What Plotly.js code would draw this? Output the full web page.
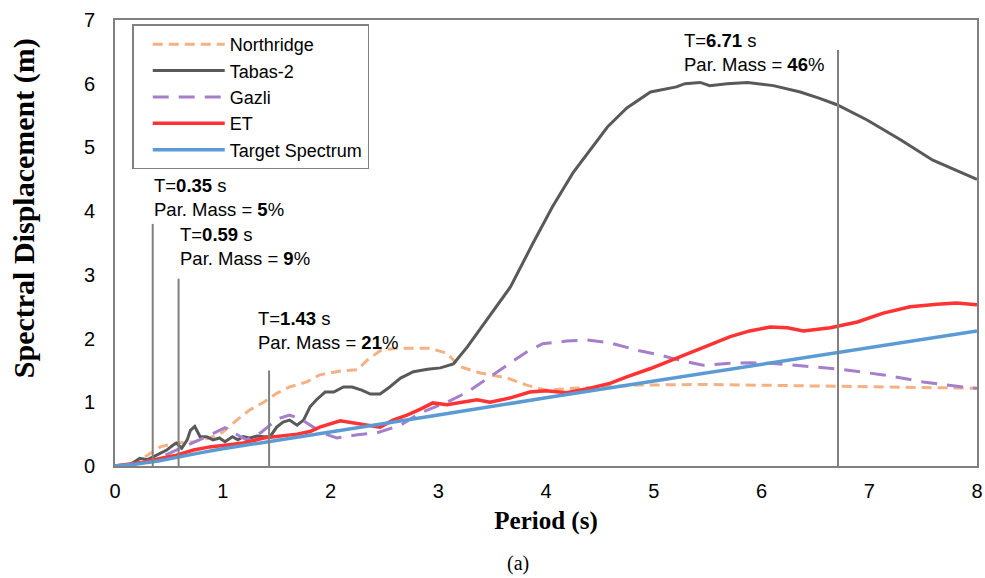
<!DOCTYPE html>
<html>
<head>
<meta charset="utf-8">
<script src="https://cdn.plot.ly/plotly-3.0.1.min.js"></script>
<style>html,body{margin:0;padding:0;background:#fff;}#chart{width:985px;height:578px;}</style>
</head>
<body>
<div id="chart"></div>
<script>
// ---- Data ----
const seriesNames = ["Northridge", "Tabas-2", "Gazli", "ET", "Target Spectrum"];

const northridgeT = [0,0.2,0.33,0.42,0.57,0.73,0.88,1.0,1.13,1.25,1.38,1.5,1.62,1.78,1.9,2.09,2.25,2.34,2.46,2.62,2.77,2.92,3.08,3.2,3.39,3.64,3.82,4.0,4.25,4.5,4.87,5.5,6.0,7.0,8.0];
const northridgeSd = [0,0.06,0.2,0.3,0.36,0.38,0.44,0.53,0.72,0.88,1.0,1.14,1.24,1.32,1.43,1.49,1.51,1.66,1.81,1.85,1.85,1.85,1.77,1.56,1.46,1.38,1.27,1.19,1.22,1.24,1.27,1.28,1.27,1.25,1.22];

const tabasT = [0,0.14,0.23,0.3,0.35,0.42,0.48,0.54,0.57,0.62,0.67,0.7,0.74,0.79,0.85,0.91,0.97,1.02,1.09,1.14,1.19,1.25,1.32,1.38,1.44,1.5,1.56,1.62,1.69,1.75,1.81,1.87,1.95,2.03,2.12,2.2,2.29,2.37,2.46,2.55,2.65,2.77,2.9,3.02,3.14,3.27,3.45,3.67,3.88,4.06,4.25,4.41,4.57,4.75,4.97,5.21,5.29,5.43,5.52,5.68,5.87,6.11,6.36,6.54,6.7,6.98,7.29,7.59,7.75,8.0];
const tabasSd = [0,0.02,0.12,0.1,0.14,0.2,0.25,0.33,0.36,0.28,0.41,0.56,0.62,0.46,0.46,0.41,0.44,0.38,0.46,0.41,0.46,0.44,0.47,0.46,0.46,0.61,0.69,0.72,0.64,0.72,0.93,1.04,1.16,1.16,1.24,1.24,1.19,1.13,1.13,1.24,1.38,1.48,1.52,1.54,1.6,1.87,2.29,2.81,3.5,4.07,4.6,4.96,5.32,5.62,5.87,5.95,6.0,6.02,5.97,6.0,6.02,5.97,5.87,5.77,5.67,5.43,5.12,4.8,4.68,4.5];

const gazliT = [0,0.2,0.4,0.6,0.7,0.8,0.9,1.02,1.12,1.22,1.35,1.51,1.62,1.72,1.84,1.95,2.06,2.25,2.43,2.65,2.83,3.08,3.27,3.48,3.64,3.82,3.97,4.19,4.38,4.6,4.84,5.06,5.24,5.46,5.68,5.89,6.11,6.36,6.73,7.13,7.5,7.87,8.0];
const gazliSd = [0,0.03,0.12,0.27,0.35,0.42,0.5,0.6,0.5,0.41,0.52,0.74,0.8,0.74,0.61,0.5,0.44,0.49,0.52,0.64,0.83,1.0,1.16,1.4,1.59,1.79,1.92,1.96,1.98,1.93,1.82,1.74,1.66,1.58,1.61,1.62,1.61,1.57,1.52,1.43,1.32,1.24,1.22];

const etT = [0,0.26,0.42,0.57,0.73,0.88,1.04,1.19,1.38,1.5,1.69,1.81,1.9,2.09,2.21,2.34,2.46,2.58,2.71,2.83,2.95,3.08,3.2,3.36,3.48,3.67,3.85,4.0,4.19,4.41,4.6,4.75,4.97,5.21,5.46,5.71,5.89,6.08,6.24,6.39,6.64,6.89,7.13,7.38,7.63,7.81,8.0];
const etSd = [0,0.06,0.12,0.17,0.25,0.3,0.33,0.36,0.44,0.46,0.5,0.54,0.61,0.71,0.68,0.64,0.61,0.72,0.8,0.89,0.99,0.96,1.0,1.04,1.0,1.07,1.16,1.18,1.15,1.22,1.3,1.4,1.53,1.69,1.85,2.03,2.12,2.18,2.17,2.12,2.17,2.26,2.4,2.5,2.54,2.56,2.53];

const targetT = [0,0.2,0.4,0.6,0.8,1,1.5,2,3,4,5,6,7,8];
const targetSd = [0,0.03,0.08,0.15,0.21,0.27,0.4,0.53,0.8,1.07,1.33,1.6,1.86,2.12];

// Modal periods, participating mass (%) and marker-line heights
const modePeriods = [0.35, 0.59, 1.43, 6.71];
const modeMass = [5, 9, 21, 46];
const modeLineTop = [3.8, 2.94, 1.5, 6.53];

const xTicks = [0,1,2,3,4,5,6,7,8];
const yTicks = [0,1,2,3,4,5,6,7];
const xTitle = "Period (s)";
const yTitle = "Spectral Displacement (m)";
const panelLabel = "(a)";

// ---- Traces ----
const traces = [
  {x: northridgeT, y: northridgeSd, name: seriesNames[0], type: "scatter", mode: "lines",
   line: {color: "#F4B183", width: 3, dash: "10px,6px"}},
  {x: tabasT, y: tabasSd, name: seriesNames[1], type: "scatter", mode: "lines",
   line: {color: "#595959", width: 3}},
  {x: gazliT, y: gazliSd, name: seriesNames[2], type: "scatter", mode: "lines",
   line: {color: "#A57FCB", width: 3, dash: "16px,10px"}},
  {x: etT, y: etSd, name: seriesNames[3], type: "scatter", mode: "lines",
   line: {color: "#FF3333", width: 3.5}},
  {x: targetT, y: targetSd, name: seriesNames[4], type: "scatter", mode: "lines",
   line: {color: "#5B9BD5", width: 3.5}}
];

// vertical mode lines
const shapes = modePeriods.map((t, i) => ({
  type: "line", xref: "x", yref: "y", x0: t, x1: t, y0: 0, y1: modeLineTop[i],
  line: {color: "#808080", width: 2}, layer: "above"
}));

// label placement (layout positions, in axis units)
const labelPos = [
  {x: 0.343, y: 4.22},
  {x: 0.585, y: 3.446},
  {x: 1.309, y: 2.119},
  {x: 5.262, y: 6.484}
];
const annFont = {family: "Arial, 'Liberation Sans', sans-serif", size: 18.5, color: "#000"};
const annotations = modePeriods.map((t, i) => ({
  xref: "x", yref: "y", x: labelPos[i].x, y: labelPos[i].y,
  xanchor: "left", yanchor: "middle", align: "left", showarrow: false,
  text: "T=<b>" + t.toFixed(2) + "</b> s<br>Par. Mass = <b>" + modeMass[i] + "</b>%",
  font: annFont
}));
const serif = "'Times New Roman', 'Liberation Serif', serif";
annotations.push({
  xref: "paper", yref: "paper", x: 0.467, y: -0.218, xanchor: "center", yanchor: "middle",
  showarrow: false, text: panelLabel,
  font: {family: serif, size: 20, color: "#000"}
});
// y-axis title (placed as in the reference, above the plot's centre)
annotations.push({
  xref: "paper", yref: "paper", x: -0.1056, y: 0.578, xanchor: "center", yanchor: "middle",
  textangle: -90, showarrow: false, text: "<b>" + yTitle + "</b>",
  font: {family: serif, size: 30, color: "#000"}
});

const tickFont = {family: "Arial, 'Liberation Sans', sans-serif", size: 20, color: "#000"};
const titleFont = {family: serif, size: 25, color: "#000"};

const layout = {
  width: 985, height: 578,
  margin: {l: 115, r: 8, t: 20, b: 112},
  paper_bgcolor: "#fff", plot_bgcolor: "#fff",
  showlegend: true,
  legend: {
    x: 0.02, y: 0.99, xanchor: "left", yanchor: "top",
    bgcolor: "#fff", bordercolor: "#808080", borderwidth: 1.5,
    font: {family: "Arial, 'Liberation Sans', sans-serif", size: 18, color: "#000"},
    indentation: 14, itemwidth: 72
  },
  xaxis: {
    range: [0, 8], tickvals: xTicks, ticktext: xTicks.map(String),
    showgrid: false, zeroline: false, showline: true, mirror: true,
    linecolor: "#808080", linewidth: 2, ticks: "", tickfont: tickFont,
    ticklabelstandoff: 6,
    title: {text: "<b>" + xTitle + "</b>", font: titleFont, standoff: 10}
  },
  yaxis: {
    range: [0, 7], tickvals: yTicks, ticktext: yTicks.map(String),
    showgrid: false, zeroline: false, showline: true, mirror: true,
    linecolor: "#808080", linewidth: 2, ticks: "", tickfont: tickFont,
    ticklabelstandoff: 14
  },
  shapes: shapes,
  annotations: annotations
};

Plotly.newPlot("chart", traces, layout, {displayModeBar: false, staticPlot: true});
</script>
</body>
</html>
